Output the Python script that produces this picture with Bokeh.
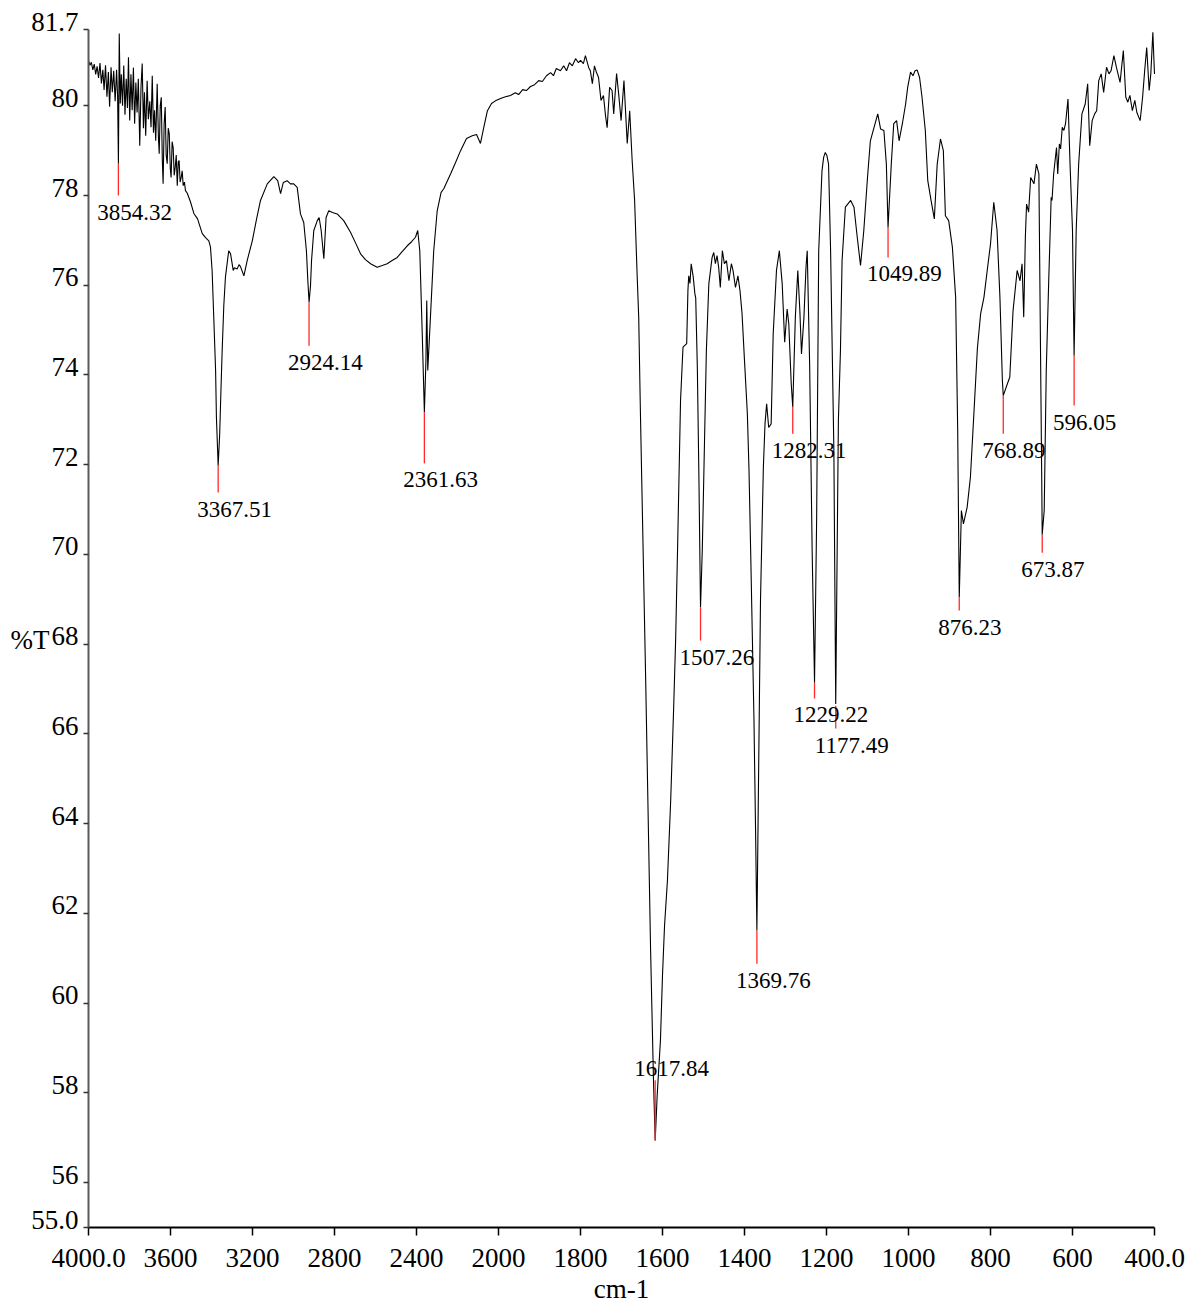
import numpy as np
from bokeh.plotting import figure
from bokeh.models import Range1d, FixedTicker, ColumnDataSource
from bokeh.core.properties import value
from bokeh.embed import file_html
from bokeh.resources import INLINE

# ---------------- spectrum data (wavenumber cm-1, %T) ----------------
wn_a = [4000, 3993, 3986, 3979, 3972, 3965, 3958, 3951, 3944, 3937,
        3930, 3924, 3917, 3910, 3903, 3897, 3890, 3884, 3877, 3870,
        3863, 3858, 3854, 3850, 3845, 3840, 3834, 3828, 3822, 3816,
        3810, 3805, 3799, 3793, 3787, 3781, 3775, 3769, 3763, 3757,
        3750, 3744, 3738, 3732, 3727, 3721, 3714, 3708, 3701, 3695,
        3689, 3683, 3678, 3672, 3665, 3659, 3655, 3650, 3645, 3640,
        3636, 3631, 3626, 3621, 3616, 3611, 3606, 3601, 3597, 3592,
        3587, 3582, 3577, 3572, 3567, 3562, 3558, 3553, 3548, 3543,
        3538, 3532, 3527, 3518, 3510, 3502]
tr_a = [81.01, 80.90, 80.97, 80.80, 80.93, 80.70, 80.88, 80.62, 80.95, 80.50,
        80.80, 80.35, 80.90, 80.20, 80.75, 79.98, 80.86, 80.30, 80.78, 80.10,
        80.80, 80.20, 78.71, 81.61, 80.05, 80.70, 80.00, 80.90, 79.80, 80.60,
        79.95, 81.08, 79.67, 80.70, 79.90, 80.85, 79.60, 80.52, 79.85, 80.60,
        79.11, 80.40, 80.94, 79.50, 80.30, 79.33, 80.56, 79.70, 80.10, 79.52,
        80.67, 79.40, 79.90, 79.22, 80.49, 79.30, 78.93, 80.00, 80.19, 78.80,
        78.26, 79.60, 79.97, 78.90, 78.71, 79.50, 79.38, 78.60, 78.40, 79.20,
        79.07, 78.45, 78.63, 78.90, 78.22, 78.75, 78.78, 78.30, 78.40, 78.55,
        78.22, 78.30, 78.11, 78.05, 77.95, 77.85]

wn_b1 = [3486, 3468, 3445, 3429, 3413, 3405, 3397, 3389, 3380, 3376,
         3367.5, 3360, 3354, 3348, 3340, 3332, 3316, 3307, 3294, 3288,
         3275, 3266, 3259, 3242, 3226, 3201, 3180, 3161, 3128, 3096,
         3077, 3063, 3050, 3031, 3015, 2999, 2982, 2966, 2950, 2937,
         2930, 2924, 2917, 2912, 2901]
tr_b1 = [77.60, 77.48, 77.15, 77.06, 76.99, 76.85, 76.33, 75.29, 74.10, 73.06,
         71.98, 72.69, 73.65, 74.54, 75.55, 76.18, 76.77, 76.70, 76.33, 76.39,
         76.36, 76.46, 76.42, 76.21, 76.55, 76.99, 77.48, 77.89, 78.26, 78.42,
         78.33, 78.04, 78.29, 78.33, 78.26, 78.26, 78.18, 77.59, 77.40, 76.77,
         76.10, 75.62, 75.99, 76.55, 77.22]

wn_b2 = [2884, 2875, 2865, 2852, 2841, 2828, 2810, 2787, 2755, 2722,
         2698, 2673, 2649, 2624, 2592, 2567, 2543, 2519, 2494, 2470,
         2445, 2424, 2405, 2394, 2384, 2372, 2361.6, 2354, 2350, 2345,
         2332, 2316, 2299, 2280, 2267, 2234, 2210, 2185, 2156, 2128,
         2107, 2088, 2073, 2054, 2034, 2015]
tr_b2 = [77.44, 77.51, 77.22, 76.59, 77.51, 77.66, 77.62, 77.59, 77.44, 77.18,
         76.95, 76.70, 76.57, 76.48, 76.40, 76.44, 76.48, 76.55, 76.62, 76.75,
         76.88, 76.97, 77.07, 77.22, 76.77, 74.92, 73.17, 74.32, 75.66, 74.10,
         75.29, 76.77, 77.66, 78.07, 78.15, 78.48, 78.73, 79.00, 79.27, 79.33,
         79.36, 79.16, 79.49, 79.89, 80.05, 80.11]

wn_c = [1995, 1983, 1971, 1959, 1951, 1941, 1932, 1922, 1912, 1902,
        1893, 1883, 1873, 1866, 1859, 1849, 1841, 1834, 1827, 1820,
        1812, 1805, 1800, 1793, 1788, 1780, 1776, 1771, 1766, 1761,
        1756, 1750, 1744, 1739, 1735, 1729, 1723, 1719, 1712, 1707,
        1701, 1694, 1686, 1680, 1674, 1668, 1662, 1658]
tr_c = [80.16, 80.20, 80.23, 80.29, 80.25, 80.36, 80.34, 80.43, 80.47, 80.56,
        80.54, 80.67, 80.74, 80.67, 80.83, 80.78, 80.89, 80.78, 80.96, 80.89,
        81.05, 80.96, 81.01, 80.94, 81.12, 80.85, 80.78, 80.49, 80.89, 80.74,
        80.63, 80.12, 80.23, 79.78, 79.51, 80.41, 80.34, 79.82, 80.72, 80.27,
        79.67, 80.56, 79.16, 79.89, 78.78, 77.89, 76.26, 75.28]

wn_d = [1654, 1641, 1629, 1622, 1617.8, 1613, 1605, 1600, 1595, 1588,
        1580, 1573, 1568, 1563, 1556, 1550, 1541, 1538, 1536, 1533,
        1530, 1525, 1521, 1519, 1515, 1511, 1507.3, 1503, 1498, 1493,
        1487, 1479, 1475, 1471, 1467, 1463, 1459, 1454, 1449, 1444,
        1438, 1432, 1428, 1422, 1416, 1411, 1406, 1400, 1393, 1389,
        1385, 1377, 1373, 1369.8, 1365, 1361, 1354, 1350, 1346, 1341,
        1335, 1330, 1322, 1315, 1308, 1302]
tr_d = [73.23, 67.19, 61.17, 58.28, 56.94, 57.94, 59.17, 60.62, 61.73, 62.73,
        64.52, 66.52, 68.08, 70.24, 73.43, 74.62, 74.70, 75.88, 76.21, 76.04,
        76.48, 76.18, 75.81, 75.72, 74.16, 71.58, 68.82, 70.09, 72.31, 74.54,
        76.03, 76.62, 76.73, 76.48, 76.66, 76.40, 75.95, 76.77, 76.48, 76.55,
        76.10, 76.48, 76.33, 75.95, 76.21, 75.88, 75.37, 74.32, 73.13, 71.87,
        70.09, 66.37, 63.85, 61.62, 65.63, 68.97, 71.94, 72.91, 73.36, 72.83,
        72.91, 74.92, 76.33, 76.77, 76.03, 74.73]

wn_e = [1296, 1292, 1286, 1282.3, 1276, 1270, 1265, 1261, 1255, 1250,
        1247, 1241, 1235, 1229.2, 1224, 1219, 1215, 1211, 1207, 1203,
        1199, 1195, 1190, 1182, 1177.5, 1174, 1171, 1166, 1162, 1154,
        1141, 1133, 1125, 1117, 1109, 1100, 1093, 1084, 1075, 1068,
        1060, 1054, 1049.9, 1042, 1036, 1029, 1023, 1015, 1007, 1002]
tr_e = [75.47, 75.14, 73.80, 73.28, 75.29, 76.33, 75.43, 74.47, 75.29, 76.40,
        76.77, 74.17, 70.09, 67.14, 70.83, 76.77, 77.66, 78.55, 78.85, 78.96,
        78.89, 78.70, 76.77, 72.31, 66.67, 70.09, 72.98, 74.54, 76.55, 77.74,
        77.89, 77.74, 77.07, 76.44, 77.22, 78.40, 79.22, 79.52, 79.82, 79.48,
        79.45, 78.70, 77.29, 78.70, 79.60, 79.67, 79.22, 79.60, 80.04, 80.41]

wn_f = [995, 989, 984, 979, 973, 967, 959, 953, 945, 937,
        930, 922, 915, 910, 902, 893, 885, 880, 876.2, 871,
        866, 857, 849, 841, 832, 824, 816, 808, 800, 792,
        784, 777, 771, 768.9, 759, 753, 745, 735, 728, 723,
        719, 715, 712, 707, 702]
tr_f = [80.75, 80.67, 80.78, 80.80, 80.63, 80.19, 79.45, 78.33, 77.89, 77.48,
        78.70, 79.26, 79.00, 77.55, 77.44, 76.85, 75.73, 72.76, 69.04, 70.98,
        70.68, 71.05, 71.72, 73.06, 74.59, 75.37, 75.73, 76.33, 76.92, 77.85,
        77.22, 75.73, 73.87, 73.54, 73.80, 73.95, 75.43, 76.33, 76.10, 76.48,
        75.29, 77.07, 77.81, 77.63, 78.40]

wn_g = [694, 688, 682, 678, 675, 673.9, 669, 664, 658, 652,
        650, 646, 639, 636, 632, 629, 625, 621, 617, 611,
        606, 600, 596.1, 591, 585, 577, 569, 563, 558, 552,
        546, 541, 536, 530, 524, 517, 511, 506, 499, 493,
        484, 476, 470, 465, 460, 454, 448, 443, 435, 429,
        424, 419, 413, 409, 404, 401, 400]
tr_g = [78.26, 78.70, 78.48, 74.54, 71.65, 70.44, 70.98, 74.10, 76.10, 77.96,
        77.89, 78.48, 79.07, 78.48, 79.15, 79.04, 79.52, 79.45, 79.60, 80.15,
        78.70, 77.22, 74.43, 77.22, 78.70, 79.82, 80.04, 80.49, 79.11, 79.67,
        79.82, 79.89, 80.56, 80.71, 80.30, 80.86, 80.71, 80.78, 81.12, 80.86,
        80.52, 81.23, 80.19, 80.08, 80.23, 79.89, 80.12, 79.85, 79.67, 80.19,
        80.78, 81.30, 80.34, 80.71, 81.64, 80.93, 80.71]

# ---------------- peak picks ----------------
peak_labels = ["3854.32", "3367.51", "2924.14", "2361.63", "1617.84", "1507.26",
               "1369.76", "1282.31", "1229.22", "1177.49", "1049.89", "876.23",
               "768.89", "673.87", "596.05"]
peak_wn = [3854.32, 3367.51, 2924.14, 2361.63, 1617.84, 1507.26, 1369.76,
           1282.31, 1229.22, 1177.49, 1049.89, 876.23, 768.89, 673.87, 596.05]
peak_top = [78.71, 71.98, 75.62, 73.17, 58.28, 68.82, 61.62, 73.30, 67.14,
            66.63, 77.29, 69.04, 73.54, 70.44, 74.43]
peak_bottom = [78.00, 71.38, 74.65, 72.03, 56.94, 68.08, 60.88, 72.69, 66.79,
               66.12, 76.62, 68.75, 72.69, 70.04, 73.32]
peak_label_above = [False, False, False, False, True, False, False, False,
                    False, False, False, False, False, False, False]

# ---------------- axis ticks ----------------
x_tick_vals = [4000, 3600, 3200, 2800, 2400, 2000, 1800, 1600, 1400, 1200,
               1000, 800, 600, 400]
x_tick_text = ["4000.0", "3600", "3200", "2800", "2400", "2000", "1800", "1600",
               "1400", "1200", "1000", "800", "600", "400.0"]
y_tick_vals = [55.0, 56, 58, 60, 62, 64, 66, 68, 70, 72, 74, 76, 78, 80, 81.7]
y_tick_text = ["55.0", "56", "58", "60", "62", "64", "66", "68", "70", "72",
               "74", "76", "78", "80", "81.7"]
x_title = "cm-1"
y_title = "%T"

X_START, X_END = 4000, 400
Y_START, Y_END = 55.0, 81.7
FONT = "Liberation Serif"

# ---------------- layout (pixels) ----------------
W, H = 1187, 1303
AX_L, AX_R, AX_T, AX_B = 88, 1154, 29, 1227   # where the axes sit on the canvas


def to_axis(w):
    """Instrument axis: 4000-2000 cm-1 drawn at half scale."""
    w = np.asarray(w, dtype=float)
    return np.where(w > 2000, 2000 + (w - 2000) / 2.0, w)


wn = np.concatenate([wn_a, wn_b1, wn_b2, wn_c, wn_d, wn_e, wn_f, wn_g])
tr = np.concatenate([tr_a, tr_b1, tr_b2, tr_c, tr_d, tr_e, tr_f, tr_g])

x0, x1 = float(to_axis(X_START)), float(to_axis(X_END))
sx = (AX_R - AX_L) / (x0 - x1)
sy = (AX_B - AX_T) / (Y_END - Y_START)
x_range = Range1d(x0 + AX_L / sx, x1 - (W - AX_R) / sx)
y_range = Range1d(Y_START - (H - AX_B) / sy, Y_END + AX_T / sy)

p = figure(width=W, height=H, output_backend="svg", toolbar_location=None,
           x_range=x_range, y_range=y_range,
           min_border_left=0, min_border_right=0, min_border_top=0,
           min_border_bottom=0)
p.outline_line_color = None
p.xgrid.grid_line_color = None
p.ygrid.grid_line_color = None
p.background_fill_color = "white"
p.border_fill_color = "white"

# spectrum
p.line(to_axis(wn), tr, line_color="black", line_width=1.1)

# peak markers
pk = ColumnDataSource(dict(x=to_axis(peak_wn), top=peak_top, bottom=peak_bottom,
                           label=peak_labels))
p.segment(x0="x", y0="top", x1="x", y1="bottom", source=pk,
          line_color="#ff2a2a", line_width=1.3)

below = [i for i, a in enumerate(peak_label_above) if not a]
above = [i for i, a in enumerate(peak_label_above) if a]
src_below = ColumnDataSource(dict(x=to_axis([peak_wn[i] for i in below]),
                                  y=[peak_bottom[i] for i in below],
                                  label=[peak_labels[i] for i in below]))
src_above = ColumnDataSource(dict(x=to_axis([peak_wn[i] for i in above]),
                                  y=[peak_top[i] for i in above],
                                  label=[peak_labels[i] for i in above]))
p.text(x="x", y="y", text="label", source=src_below, text_font=value(FONT),
       text_font_size="23px", text_color="black", text_align="left",
       text_baseline="top", x_offset=-21, y_offset=9)
p.text(x="x", y="y", text="label", source=src_above, text_font=value(FONT),
       text_font_size="23px", text_color="black", text_align="left",
       text_baseline="top", x_offset=-21, y_offset=-19)

# x axis: fixed on the 55.0 line, spanning 4000-400 only
xt = [float(v) for v in to_axis(x_tick_vals)]
xa = p.xaxis[0]
xa.fixed_location = Y_START
xa.bounds = (min(x0, x1), max(x0, x1))
xa.ticker = FixedTicker(ticks=xt)
xa.major_label_overrides = {int(round(v)): t for v, t in zip(xt, x_tick_text)}
xa.axis_line_color = "black"
xa.axis_line_width = 2
xa.major_tick_line_color = "black"
xa.major_tick_line_width = 1.5
xa.major_tick_out = 8
xa.major_tick_in = 0
xa.minor_tick_line_color = None
xa.major_label_text_font = FONT
xa.major_label_text_font_size = "27px"
xa.major_label_text_color = "black"
xa.major_label_standoff = 13

# y axis: fixed on the 4000 line, spanning 55.0-81.7
ya = p.yaxis[0]
ya.fixed_location = x0
ya.bounds = (Y_START, Y_END)
ya.ticker = FixedTicker(ticks=y_tick_vals)
ya.axis_line_color = "#5a5a5a"
ya.axis_line_width = 2
ya.major_tick_line_color = "#333333"
ya.major_tick_line_width = 1.5
ya.major_tick_out = 5
ya.major_tick_in = 0
ya.minor_tick_line_color = None
ya.major_label_text_color = None

# y tick labels sit on top of their ticks (as on the instrument printout)
ysrc = ColumnDataSource(dict(x=[x0] * len(y_tick_vals), y=y_tick_vals, text=y_tick_text))
p.text(x="x", y="y", text="text", source=ysrc, x_offset=-10, y_offset=-17,
       text_align="right", text_baseline="top", text_font=value(FONT),
       text_font_size="27px", text_color="black")

# axis titles
p.text(x=[x0], y=[68], text=[y_title], x_offset=-78, y_offset=-19,
       text_align="left", text_baseline="top", text_font=value(FONT),
       text_font_size="27px", text_color="black")
p.text(x=[(x0 + x1) / 2], y=[Y_START], text=[x_title], y_offset=46,
       text_align="center", text_baseline="top", text_font=value(FONT),
       text_font_size="27px", text_color="black")

open("out.html", "w").write(file_html(p, INLINE))
